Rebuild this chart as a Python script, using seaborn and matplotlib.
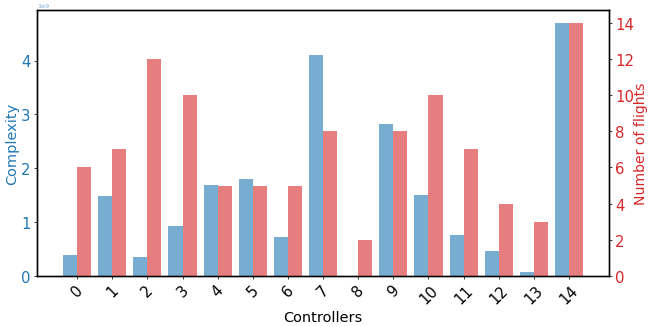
import pandas as pd
import seaborn as sns
import matplotlib.pyplot as plt
from matplotlib.ticker import MultipleLocator

controllers = list(range(15))
complexity = [0.39e9, 1.48e9, 0.35e9, 0.93e9, 1.69e9, 1.80e9, 0.72e9, 4.11e9,
              0.005e9, 2.82e9, 1.50e9, 0.76e9, 0.46e9, 0.07e9, 4.70e9]
flights = [6, 7, 12, 10, 5, 5, 5, 8, 2, 8, 10, 7, 4, 3, 14]

series_order = ["Complexity", "Number of flights"]
colors = {"Complexity": "tab:blue", "Number of flights": "tab:red"}

df_c = pd.DataFrame({"Controllers": controllers, "value": complexity, "series": "Complexity"})
df_f = pd.DataFrame({"Controllers": controllers, "value": flights, "series": "Number of flights"})

fig, ax1 = plt.subplots(figsize=(10, 5.03), dpi=65)
ax2 = ax1.twinx()

sns.barplot(data=df_c, x="Controllers", y="value", hue="series", hue_order=series_order,
            palette=colors, alpha=0.6, saturation=1, width=0.8, dodge=True,
            legend=False, ax=ax1)
sns.barplot(data=df_f, x="Controllers", y="value", hue="series", hue_order=series_order,
            palette=colors, alpha=0.6, saturation=1, width=0.8, dodge=True,
            legend=False, ax=ax2)

ax1.set_xlim(-1.14, 15.14)
ax1.set_xlabel("Controllers", fontsize=16)
ax1.set_ylabel("Complexity", color="tab:blue", fontsize=16, labelpad=2)
ax2.set_ylabel("Number of flights", color="tab:red", fontsize=15.5, labelpad=0)
ax1.tick_params(axis="y", labelcolor="tab:blue", labelsize=16.5)
ax2.tick_params(axis="y", labelcolor="tab:red", labelsize=16.5)
ax1.tick_params(axis="x", labelsize=16.5, labelrotation=45)
ax1.yaxis.get_offset_text().set_fontsize(7)
ax1.yaxis.get_offset_text().set_color("tab:blue")
ax1.yaxis.get_offset_text().set_alpha(0.6)
ax2.set_ylim(0, 14.7)
ax2.yaxis.set_major_locator(MultipleLocator(2))
for ax in (ax1, ax2):
    for spine in ax.spines.values():
        spine.set_linewidth(1.5)

fig.subplots_adjust(left=0.057, right=0.937, top=0.966, bottom=0.153)
fig.savefig("out.png")
